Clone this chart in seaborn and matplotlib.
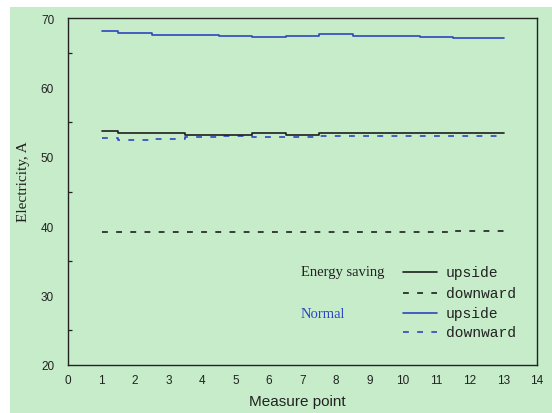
import matplotlib
matplotlib.use("Agg")
import numpy as np
import pandas as pd
import seaborn as sns
import matplotlib.pyplot as plt
from matplotlib.lines import Line2D
from matplotlib.patches import Rectangle
from matplotlib.ticker import MultipleLocator

# ---- data ----
points = [1, 2, 3, 4, 5, 6, 7, 8, 9, 10, 11, 12, 13]
normal_up = [68.2, 67.95, 67.65, 67.65, 67.4, 67.26, 67.45, 67.7, 67.45, 67.45, 67.26, 67.17, 67.17]
normal_down = [52.7, 52.5, 52.6, 52.8, 53.0, 52.9, 52.9, 53.0, 53.0, 53.0, 53.0, 53.0, 53.0]
saving_up = [53.7, 53.4, 53.4, 53.15, 53.15, 53.4, 53.15, 53.4, 53.4, 53.4, 53.4, 53.4, 53.4]
saving_down = [39.1, 39.1, 39.1, 39.1, 39.1, 39.1, 39.1, 39.1, 39.1, 39.1, 39.1, 39.35, 39.35]
x_ticks = list(range(0, 15))
y_ticks = [20, 30, 40, 50, 60, 70]

BG = "#c6ecca"
BLUE = "#2e46c0"
BLACK = "#1e1e1e"
DASH = (0, (3.5, 5.0))

sns.set_theme(style="white")
plt.rcParams["font.family"] = ["Liberation Sans", "DejaVu Sans"]

fig = plt.figure(figsize=(5.52, 4.14), dpi=100)
fig.patch.set_facecolor("white")
fig.add_artist(Rectangle((10 / 552, 0), 1, 1 - 8 / 414, transform=fig.transFigure,
                         facecolor=BG, edgecolor="none", zorder=-10))

ax = fig.add_axes([68 / 552, (414 - 365.7) / 414, (537 - 68) / 552, (365.7 - 19.3) / 414])
ax.set_facecolor(BG)

df = pd.DataFrame({"point": points, "nu": normal_up, "nd": normal_down,
                   "su": saving_up, "sd": saving_down})

sns.lineplot(data=df, x="point", y="nu", ax=ax, color=BLUE, lw=1.2, drawstyle="steps-mid")
sns.lineplot(data=df, x="point", y="nd", ax=ax, color=BLUE, lw=1.2, linestyle=DASH, drawstyle="steps-mid")
sns.lineplot(data=df, x="point", y="su", ax=ax, color=BLACK, lw=1.2, drawstyle="steps-mid")
sns.lineplot(data=df, x="point", y="sd", ax=ax, color=BLACK, lw=1.2, linestyle=DASH, drawstyle="steps-mid")

ax.set_xlim(0, 14)
ax.set_ylim(20, 70)
ax.set_xticks(x_ticks)
ax.set_xticklabels([str(t) for t in x_ticks])
ax.set_yticks(y_ticks)
ax.yaxis.set_minor_locator(MultipleLocator(5))
ax.tick_params(axis="both", which="major", direction="in", length=4, width=0.9,
               colors="#222222", labelsize=8.5)
ax.tick_params(axis="y", which="minor", direction="in", length=3, width=0.9, color="#222222", left=True)
ax.tick_params(axis="y", pad=10)
ax.tick_params(axis="x", pad=7)
ax.grid(False)
for s in ax.spines.values():
    s.set_visible(True)
    s.set_color("#222222")
    s.set_linewidth(1.0)

ax.set_xlabel("Measure point", fontsize=11, color="#222222")
ax.xaxis.set_label_coords(0.49, -0.085)
ax.set_ylabel("Electricity, A", fontsize=11, color="#222222", family=["Liberation Serif", "DejaVu Serif"])
ax.yaxis.set_label_coords(-0.08, 0.53)

# ---- legend (manual) ----
rows = [0.268, 0.207, 0.149, 0.094]
styles = [(BLACK, "-"), (BLACK, DASH), (BLUE, "-"), (BLUE, DASH)]
labels = ["upside", "downward", "upside", "downward"]
for yy, (c, ls), lab in zip(rows, styles, labels):
    ax.add_line(Line2D([0.714, 0.787], [yy, yy], transform=ax.transAxes, color=c, lw=1.2, linestyle=ls))
    ax.text(0.806, yy, lab, transform=ax.transAxes, va="center", ha="left",
            fontsize=10.5, color="#222222", family=["Liberation Mono", "DejaVu Sans Mono"])
ax.text(0.497, rows[0], "Energy saving", transform=ax.transAxes, va="center", ha="left",
        fontsize=10.5, color="#222222", family=["Liberation Serif", "DejaVu Serif"])
ax.text(0.497, rows[2], "Normal", transform=ax.transAxes, va="center", ha="left",
        fontsize=10.5, color=BLUE, family=["Liberation Serif", "DejaVu Serif"])

fig.savefig("out.png", dpi=100, facecolor=fig.get_facecolor())
